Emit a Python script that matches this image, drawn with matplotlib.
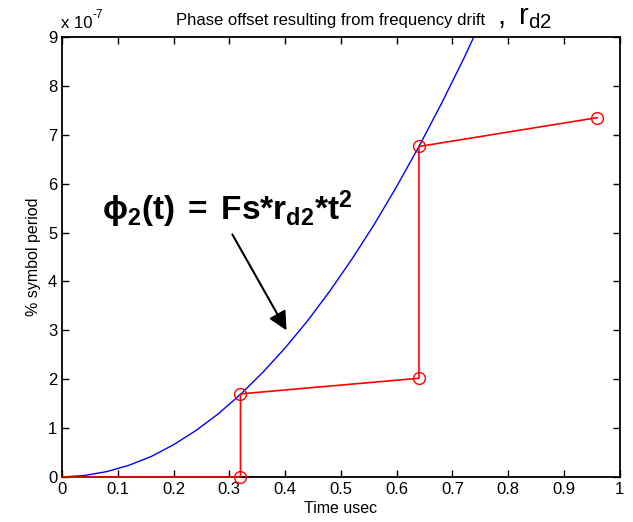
import matplotlib.pyplot as plt

plt.rcParams['font.family'] = ['Liberation Sans', 'DejaVu Sans']
plt.rcParams['mathtext.fontset'] = 'custom'
plt.rcParams['mathtext.rm'] = 'Liberation Sans'
plt.rcParams['mathtext.bf'] = 'Liberation Sans:bold'
plt.rcParams['mathtext.it'] = 'Liberation Sans:italic'

# blue curve, phase offset (x 1e-7) vs time (usec)
t_curve = [0, 0.04, 0.08, 0.12, 0.16, 0.20, 0.24, 0.28, 0.32, 0.36,
           0.40, 0.44, 0.48, 0.52, 0.56, 0.60, 0.64, 0.68, 0.72, 0.76]
phase_curve = [0, 0.03, 0.11, 0.24, 0.42, 0.66, 0.95, 1.29, 1.69, 2.14,
               2.64, 3.19, 3.80, 4.46, 5.17, 5.94, 6.76, 7.63, 8.55, 9.53]

# red stepped estimate
t_step = [0, 0.32, 0.32, 0.64, 0.64, 0.96]
phase_step = [0, 0, 1.70, 2.02, 6.76, 7.35]

fig = plt.figure(figsize=(6.33, 5.22), dpi=100)
ax = fig.add_axes([0.098, 0.0862, 0.881, 0.843])

ax.plot(t_curve, phase_curve, color='blue', lw=1)
ax.plot(t_step, phase_step, color='red', lw=1.2, marker='o', markersize=8.5,
        markerfacecolor='none', markeredgecolor='red', markevery=[1, 2, 3, 4, 5],
        clip_on=False, zorder=5)

ax.set_xlim(0, 1)
ax.set_ylim(0, 9)
ax.set_xticks([0, 0.1, 0.2, 0.3, 0.4, 0.5, 0.6, 0.7, 0.8, 0.9, 1])
ax.set_xticklabels(['0', '0.1', '0.2', '0.3', '0.4', '0.5', '0.6', '0.7', '0.8', '0.9', '1'])
ax.set_yticks(range(10))
ax.tick_params(direction='in', top=True, right=True, length=5, labelsize=12, width=1)
for s in ax.spines.values():
    s.set_linewidth(1.3)

ax.set_xlabel('Time usec', fontsize=11.5, labelpad=3)
ax.set_ylabel('% symbol period', fontsize=11.5, labelpad=5)
fig.text(0.097, 0.946, 'x 10', fontsize=12, ha='left', va='baseline')
fig.text(0.146, 0.965, '-7', fontsize=8.5, ha='left', va='baseline')

fig.text(0.522, 0.953, 'Phase offset resulting from frequency drift', fontsize=12,
         ha='center', va='baseline')
fig.text(0.785, 0.953, r'$\mathregular{,\ r_{d2}}$', fontsize=21, ha='left', va='baseline')

ax.text(0.072, 5.25, r'$\mathbf{\phi_2(t)\;=\;Fs{*}r_{d2}{*}t^2}$', fontsize=24)
ax.annotate('', xy=(0.405, 2.95), xytext=(0.303, 5.01),
            arrowprops=dict(arrowstyle='-|>', color='black', lw=1.5, mutation_scale=28))

fig.savefig('out.png', dpi=100)
